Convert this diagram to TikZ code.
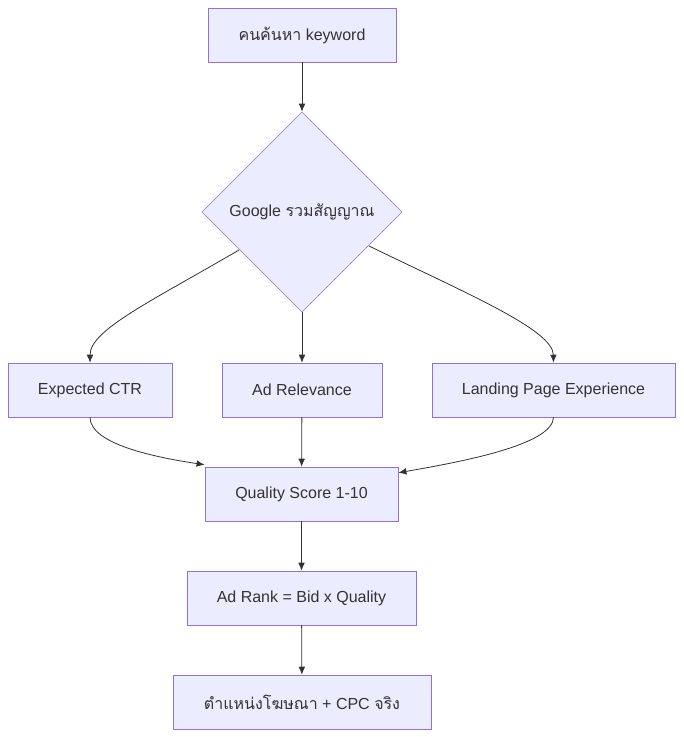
\documentclass[tikz,border=0pt]{standalone}
\usepackage{fontspec}
\setmainfont{Liberation Sans}
\newfontfamily\thaifont[Script=Thai]{Loma}
\usetikzlibrary{shapes.geometric,arrows.meta}
\definecolor{fillc}{HTML}{ECECFF}
\definecolor{strokec}{HTML}{9370DB}
\definecolor{linec}{HTML}{333333}
\begin{document}
\begin{tikzpicture}[x=0.75pt,y=-0.75pt,
 box/.style={draw=strokec,fill=fillc,minimum height=40.5pt,inner sep=0pt,font=\fontsize{12}{14}\selectfont,text=linec},
 dia/.style={diamond,draw=strokec,fill=fillc,minimum width=150pt,minimum height=150pt,inner sep=0pt,font=\fontsize{12}{14}\selectfont,text=linec},
 arr/.style={draw=linec,line width=0.6pt,-{Latex[length=6pt,width=5pt]}}]
\useasboundingbox (0,0) rectangle (683,737);
\node[box,minimum width=141pt] (a) at (302,35) {{\thaifont คนค้นหา} keyword};
\node[dia] (d) at (302,212) {Google {\thaifont รวมสัญญาณ}};
\node[box,minimum width=123pt] (e) at (90,390) {Expected CTR};
\node[box,minimum width=120pt] (r) at (302,390) {Ad Relevance};
\node[box,minimum width=182pt] (l) at (553.5,390) {Landing Page Experience};
\node[box,minimum width=145pt] (q) at (301.5,494) {Quality Score 1-10};
\node[box,minimum width=172pt] (k) at (301.5,598) {Ad Rank = Bid x Quality};
\node[box,minimum width=193.5pt] (f) at (302,702) {{\thaifont ตำแหน่งโฆษณา} + CPC {\thaifont จริง}};
\draw[arr] (a) -- (d);
\draw[arr] (d) -- (r);
\draw[arr] (r) -- (q);
\draw[arr] (q) -- (k);
\draw[arr] (k) -- (f);
\draw[arr] (239,250) .. controls (150,302) and (90,330) .. (e.north);
\draw[arr] (369,246) .. controls (470,295) and (553,330) .. (l.north);
\draw[arr] (e.south) .. controls (90,445) and (160,458) .. ([yshift=1.5pt]q.north west);
\draw[arr] (l.south) .. controls (553,445) and (460,462) .. ([yshift=-4.5pt]q.north east);
\end{tikzpicture}
\end{document}
